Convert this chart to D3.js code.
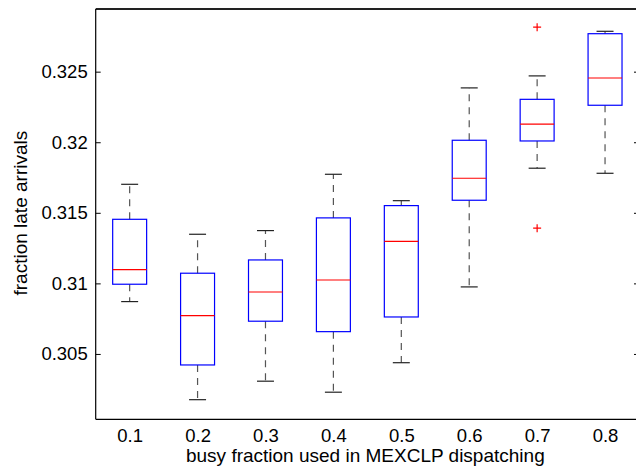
<!DOCTYPE html>
<html>
<head>
<meta charset="utf-8">
<script src="https://cdn.jsdelivr.net/npm/d3@7"></script>
<style>
  html, body { margin: 0; padding: 0; background: #fff; }
  svg text { font-family: "Liberation Sans", Arial, Helvetica, sans-serif; fill: #000; }
</style>
</head>
<body>
<script>
// Busy fraction settings (one box per setting)
const categories = ["0.1", "0.2", "0.3", "0.4", "0.5", "0.6", "0.7", "0.8"];
// Box statistics: lower whisker, first quartile, median, third quartile, upper whisker
const whiskerLow  = [0.30871, 0.30176, 0.30307, 0.30229, 0.30438, 0.30975, 0.31816, 0.31780];
const quartile1   = [0.30994, 0.30422, 0.30732, 0.30658, 0.30762, 0.31589, 0.32009, 0.32262];
const medians     = [0.31097, 0.30771, 0.30939, 0.31024, 0.31298, 0.31745, 0.32129, 0.32455];
const quartile3   = [0.31454, 0.31072, 0.31166, 0.31464, 0.31551, 0.32014, 0.32304, 0.32769];
const whiskerHigh = [0.31702, 0.31348, 0.31374, 0.31773, 0.31586, 0.32385, 0.32470, 0.32786];
// Outliers as [category index, value]
const outliers = [[6, 0.32815], [6, 0.31391]];
const yTicks = [0.305, 0.31, 0.315, 0.32, 0.325];
const yDomain = [0.30037, 0.32944];

const W = 636, H = 467;
const plotL = 95.7, plotR = 639, plotT = 9, plotB = 419.3;

const svg = d3.select("body").append("svg")
  .attr("width", W).attr("height", H);

// Position scale: categories at 1..8, limits [0.5, 8.5]
const x = d3.scaleLinear().domain([0.5, categories.length + 0.5]).range([plotL, plotR]);
const y = d3.scaleLinear().domain(yDomain).range([plotB, plotT]);

const boxHalf = 0.25, capHalf = 0.125;

const g = svg.append("g");

const rows = categories.map((c, i) => ({
  i, c, lo: whiskerLow[i], q1: quartile1[i], med: medians[i], q3: quartile3[i], hi: whiskerHigh[i]
}));

// Whiskers (dashed)
g.selectAll("line.wup").data(rows).join("line")
  .attr("x1", d => x(d.i + 1)).attr("x2", d => x(d.i + 1))
  .attr("y1", d => y(d.q3)).attr("y2", d => y(d.hi))
  .attr("stroke", "#555").attr("stroke-width", 1.2).attr("stroke-dasharray", "7,6");
g.selectAll("line.wdn").data(rows).join("line")
  .attr("x1", d => x(d.i + 1)).attr("x2", d => x(d.i + 1))
  .attr("y1", d => y(d.q1)).attr("y2", d => y(d.lo))
  .attr("stroke", "#555").attr("stroke-width", 1.2).attr("stroke-dasharray", "7,6");

// Whisker caps
["lo", "hi"].forEach(k => {
  g.selectAll("line.cap-" + k).data(rows).join("line")
    .attr("x1", d => x(d.i + 1 - capHalf)).attr("x2", d => x(d.i + 1 + capHalf))
    .attr("y1", d => y(d[k])).attr("y2", d => y(d[k]))
    .attr("stroke", "#222").attr("stroke-width", 1.2);
});

// Boxes
g.selectAll("rect.box").data(rows).join("rect")
  .attr("x", d => x(d.i + 1 - boxHalf))
  .attr("width", d => x(d.i + 1 + boxHalf) - x(d.i + 1 - boxHalf))
  .attr("y", d => y(d.q3))
  .attr("height", d => y(d.q1) - y(d.q3))
  .attr("fill", "none").attr("stroke", "#0000ff").attr("stroke-width", 1.2);

// Medians
g.selectAll("line.med").data(rows).join("line")
  .attr("x1", d => x(d.i + 1 - boxHalf)).attr("x2", d => x(d.i + 1 + boxHalf))
  .attr("y1", d => y(d.med)).attr("y2", d => y(d.med))
  .attr("stroke", "#ff0000").attr("stroke-width", 1.2);

// Outlier markers (+)
g.selectAll("path.out").data(outliers).join("path")
  .attr("d", d => {
    const cx = x(d[0] + 1), cy = y(d[1]), s = 4;
    return `M${cx - s},${cy}H${cx + s}M${cx},${cy - s}V${cy + s}`;
  })
  .attr("stroke", "#ff0000").attr("stroke-width", 1.2).attr("fill", "none");

// Axes frame
svg.append("line").attr("x1", plotL).attr("x2", plotR).attr("y1", plotT).attr("y2", plotT)
  .attr("stroke", "#222").attr("stroke-width", 2);
svg.append("line").attr("x1", plotL).attr("x2", plotR).attr("y1", plotB).attr("y2", plotB)
  .attr("stroke", "#000").attr("stroke-width", 1.2);
svg.append("line").attr("x1", plotL).attr("x2", plotL).attr("y1", plotT).attr("y2", plotB)
  .attr("stroke", "#000").attr("stroke-width", 1.2);
svg.append("line").attr("x1", plotR).attr("x2", plotR).attr("y1", plotT).attr("y2", plotB)
  .attr("stroke", "#000").attr("stroke-width", 1.2);

// Left axis: inward ticks with labels
const yAxisL = d3.axisLeft(y).tickValues(yTicks).tickSize(-5).tickPadding(8)
  .tickFormat(d => d3.format("")(+d.toFixed(3)));
const gl = svg.append("g").attr("transform", `translate(${plotL},0)`).call(yAxisL);
gl.select(".domain").remove();
gl.selectAll(".tick line").attr("stroke", "#000");
gl.selectAll(".tick text").attr("font-size", 18.5);

// Right axis: inward ticks only
const yAxisR = d3.axisRight(y).tickValues(yTicks).tickSize(-5).tickFormat("");
const gr = svg.append("g").attr("transform", `translate(${plotR},0)`).call(yAxisR);
gr.select(".domain").remove();
gr.selectAll(".tick line").attr("stroke", "#000");

// Bottom category labels
const xAxis = d3.axisBottom(x).tickValues(d3.range(1, categories.length + 1))
  .tickSize(0).tickPadding(10).tickFormat(d => categories[d - 1]);
const gx = svg.append("g").attr("transform", `translate(0,${plotB})`).call(xAxis);
gx.select(".domain").remove();
gx.selectAll(".tick text").attr("font-size", 18.5);

// Axis titles
svg.append("text")
  .attr("x", (plotL + plotR) / 2 - 2).attr("y", 462)
  .attr("text-anchor", "middle").attr("font-size", 19)
  .text("busy fraction used in MEXCLP dispatching");
svg.append("text")
  .attr("transform", `translate(27,${(plotT + plotB) / 2 - 1}) rotate(-90)`)
  .attr("text-anchor", "middle").attr("font-size", 19)
  .text("fraction late arrivals");
</script>
</body>
</html>
